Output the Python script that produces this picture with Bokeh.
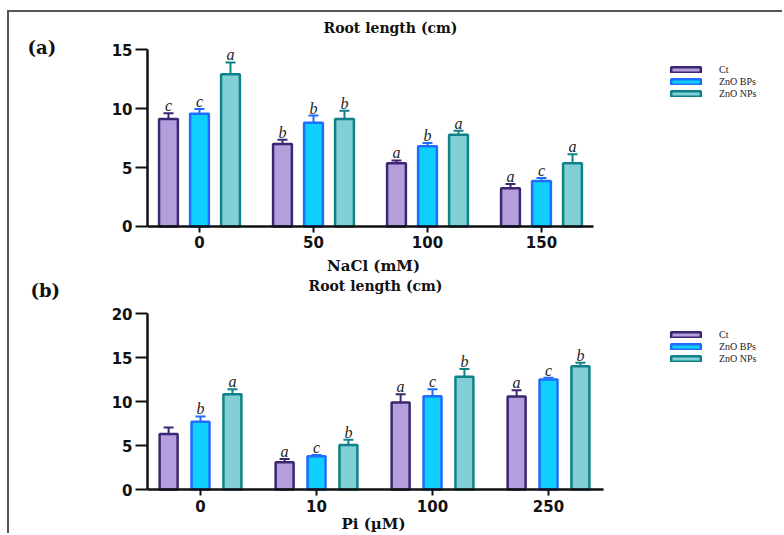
from bokeh.plotting import figure
from bokeh.models import (Range1d, FixedTicker, Whisker, TeeHead, ColumnDataSource,
                          Legend, LegendItem, Label)
from bokeh.layouts import column
from bokeh.embed import file_html
from bokeh.resources import INLINE
from bokeh.core.properties import value

# ---------------- data ----------------
series = ["Ct", "ZnO BPs", "ZnO NPs"]

# (a) NaCl
nacl_levels = ["0", "50", "100", "150"]
nacl_ct = [9.1, 7.0, 5.35, 3.25]
nacl_ct_err = [0.5, 0.35, 0.25, 0.35]
nacl_bp = [9.55, 8.8, 6.8, 3.85]
nacl_bp_err = [0.4, 0.6, 0.28, 0.25]
nacl_np = [12.9, 9.1, 7.77, 5.37]
nacl_np_err = [1.0, 0.7, 0.35, 0.75]
nacl_ct_let = ["c", "b", "a", "a"]
nacl_bp_let = ["c", "b", "b", "c"]
nacl_np_let = ["a", "b", "a", "a"]

# (b) Pi
pi_levels = ["0", "10", "100", "250"]
pi_ct = [6.3, 3.1, 9.9, 10.57]
pi_ct_err = [0.75, 0.37, 0.93, 0.7]
pi_bp = [7.7, 3.77, 10.6, 12.5]
pi_bp_err = [0.6, 0.15, 0.8, 0.2]
pi_np = [10.83, 5.06, 12.8, 14.0]
pi_np_err = [0.57, 0.6, 0.9, 0.4]
pi_ct_let = ["", "a", "a", "a"]
pi_bp_let = ["b", "c", "c", "c"]
pi_np_let = ["a", "b", "b", "b"]

# ---------------- styles ----------------
fill_colors = ["#b49fdc", "#0fcfff", "#82cfd6"]
line_colors = ["#3b2671", "#1f6cff", "#0f8189"]
SERIF_B = "DejaVu Serif"
TICK_FONT = "DejaVu Sans"


def make_panel(levels, means, errs, letters, ymax, yticks, xlabel, tag, title,
               width, height, x_view, x_axis_span, y_view, offset, bar_w,
               leg_ys, title_xy, tag_xy, xlab_xy):
    p = figure(width=width, height=height, output_backend="svg", toolbar_location=None,
               x_range=Range1d(*x_view), y_range=Range1d(*y_view),
               min_border_left=0, min_border_right=0,
               min_border_top=0, min_border_bottom=0)
    p.outline_line_color = None
    p.grid.visible = False
    p.background_fill_color = "white"
    p.border_fill_color = "white"

    for k in range(3):
        xs = [i + (k - 1) * offset for i in range(len(levels))]
        src = ColumnDataSource(dict(
            x=xs, top=means[k], upper=[m + e for m, e in zip(means[k], errs[k])],
            lower=means[k], let=letters[k]))
        r = p.vbar(x="x", top="top", width=bar_w, bottom=0, source=src,
                   fill_color=fill_colors[k], line_color=line_colors[k], line_width=2.5)
        w = Whisker(base="x", upper="upper", lower="lower", source=src,
                    line_color=line_colors[k], line_width=2,
                    upper_head=TeeHead(size=10, line_color=line_colors[k], line_width=2),
                    lower_head=None)
        p.add_layout(w)
        p.text(x="x", y="upper", text="let", source=src, text_align="center",
               text_baseline="bottom", text_font=value("Liberation Serif"),
               text_font_style="italic", text_font_size="16px", text_color="#222222",
               y_offset=1)
        leg = Legend(items=[LegendItem(label=series[k], renderers=[r])],
                     location=(658, leg_ys[k]), padding=0, margin=0, spacing=0,
                     glyph_width=37, glyph_height=7, label_height=12, label_standoff=15,
                     label_text_font="Liberation Serif", label_text_font_size="10px",
                     label_text_color="#222222",
                     border_line_color=None, background_fill_alpha=0)
        p.add_layout(leg)

    # axes (pinned at the data origin, limited to the plotted span)
    for ax in (p.xaxis[0], p.yaxis[0]):
        ax.axis_line_width = 2.5
        ax.axis_line_color = "#111111"
        ax.major_tick_line_width = 2
        ax.major_tick_line_color = "#111111"
        ax.major_tick_in = 0
        ax.minor_tick_line_color = None
        ax.major_label_text_font = TICK_FONT
        ax.major_label_text_font_style = "bold"
        ax.major_label_text_font_size = "15px"
        ax.major_label_text_color = "#111111"
    p.yaxis.ticker = FixedTicker(ticks=yticks)
    p.yaxis.bounds = (0, ymax)
    p.yaxis.fixed_location = x_axis_span[0]
    p.yaxis.major_tick_out = 12
    p.yaxis.major_label_standoff = 3
    p.xaxis.ticker = FixedTicker(ticks=list(range(len(levels))))
    p.xaxis.major_label_overrides = {i: lv for i, lv in enumerate(levels)}
    p.xaxis.bounds = x_axis_span
    p.xaxis.fixed_location = 0
    p.xaxis.major_tick_out = 6
    p.xaxis.major_label_standoff = 4

    common = dict(x_units="screen", y_units="screen", text_font=SERIF_B,
                  text_font_style="bold", text_color="#111111", text_baseline="middle")
    p.add_layout(Label(x=title_xy[0], y=title_xy[1], text=title, text_align="center",
                       text_font_size="14px", **common))
    p.add_layout(Label(x=tag_xy[0], y=tag_xy[1], text=tag, text_align="left",
                       text_font_size="18px", **common))
    p.add_layout(Label(x=xlab_xy[0], y=xlab_xy[1], text=xlabel, text_align="center",
                       text_font_size="15px", **common))
    return p


# (a): 114 px per group, value 0 at 48 px above the bottom edge, 11.8 px per cm
p1 = make_panel(nacl_levels, [nacl_ct, nacl_bp, nacl_np],
                [nacl_ct_err, nacl_bp_err, nacl_np_err],
                [nacl_ct_let, nacl_bp_let, nacl_np_let],
                15, [0, 5, 10, 15], "NaCl (mM)", "(a)", "Root length (cm)",
                773, 262, (-1.6665, 5.114), (-0.456, 3.456), (-4.068, 18.136),
                0.272, 0.165, (199, 187, 175), (381, 247), (18, 227), (364, 9))
# (b): 116 px per group, value 0 at 44 px above the bottom edge, 8.8 px per cm
p2 = make_panel(pi_levels, [pi_ct, pi_bp, pi_np],
                [pi_ct_err, pi_bp_err, pi_np_err],
                [pi_ct_let, pi_bp_let, pi_np_let],
                20, [0, 5, 10, 15, 20], "Pi (µM)", "(b)", "Root length (cm)",
                773, 259, (-1.6467, 5.0171), (-0.457, 3.474), (-5.0, 24.432),
                0.275, 0.155, (193, 181, 169), (366, 248), (21, 243), (364, 10))

layout = column(p1, p2, margin=(10, 0, 0, 7),
                styles={"border-top": "2px solid #555555", "border-left": "2px solid #555555"})

open("out.html", "w").write(file_html(layout, INLINE))
